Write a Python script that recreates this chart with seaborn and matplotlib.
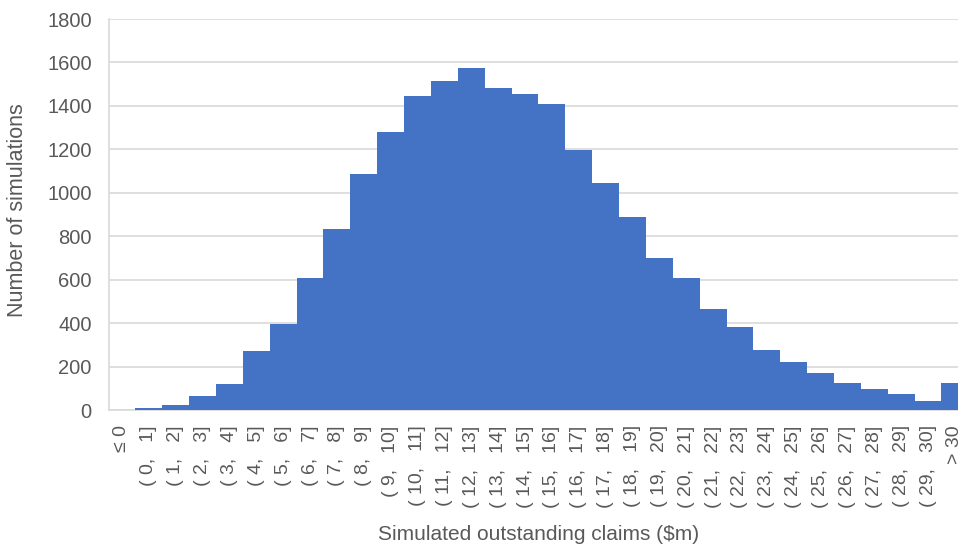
import matplotlib
matplotlib.use("Agg")
import matplotlib.pyplot as plt
import seaborn as sns
import pandas as pd

categories = ["\u2264 0"] + [f"( {i},   {i+1}]" for i in range(0, 30)] + ["> 30"]
counts = [0, 8, 21, 66, 121, 271, 397, 607, 832, 1087, 1280, 1447, 1517, 1575,
          1483, 1455, 1409, 1197, 1046, 887, 698, 606, 463, 380, 278, 223, 172,
          126, 98, 75, 43, 125]
yticks = [0, 200, 400, 600, 800, 1000, 1200, 1400, 1600, 1800]

df = pd.DataFrame({"bin": categories, "count": counts})

sns.set_theme(style="white")
plt.rcParams['font.family'] = ['Liberation Sans', 'DejaVu Sans']

fig = plt.figure(figsize=(9.58, 5.52), dpi=100)
ax = fig.add_axes([0.1133, 0.2572, 0.8975, 0.7083])

sns.barplot(data=df, x="bin", y="count", color="#4472C4", saturation=1,
            width=1.0, linewidth=0, ax=ax, zorder=3)

ax.set_xlim(-0.5, 31.5)
ax.set_ylim(0, 1800)
ax.set_yticks(yticks)
ax.set_yticklabels([str(v) for v in yticks])
ax.yaxis.grid(True, color="#D9D9D9", linewidth=1.2, zorder=0)
ax.set_axisbelow(True)

for s in ["top", "right"]:
    ax.spines[s].set_visible(False)
for s in ["left", "bottom"]:
    ax.spines[s].set_color("#D9D9D9")
    ax.spines[s].set_linewidth(1.2)

ax.tick_params(axis="y", length=0, pad=12, labelsize=14.5, labelcolor="#595959")
ax.tick_params(axis="x", length=0, pad=11, labelsize=14, labelcolor="#595959")
plt.setp(ax.get_xticklabels(), rotation=90, ha="center", va="top")

ax.set_xlabel("Simulated outstanding claims ($m)", fontsize=15, color="#595959")
ax.set_ylabel("Number of simulations", fontsize=15.5, color="#595959")
ax.xaxis.set_label_coords(0.5, -0.295)
ax.yaxis.set_label_coords(-0.094, 0.51)

fig.savefig("out.png", dpi=100)
